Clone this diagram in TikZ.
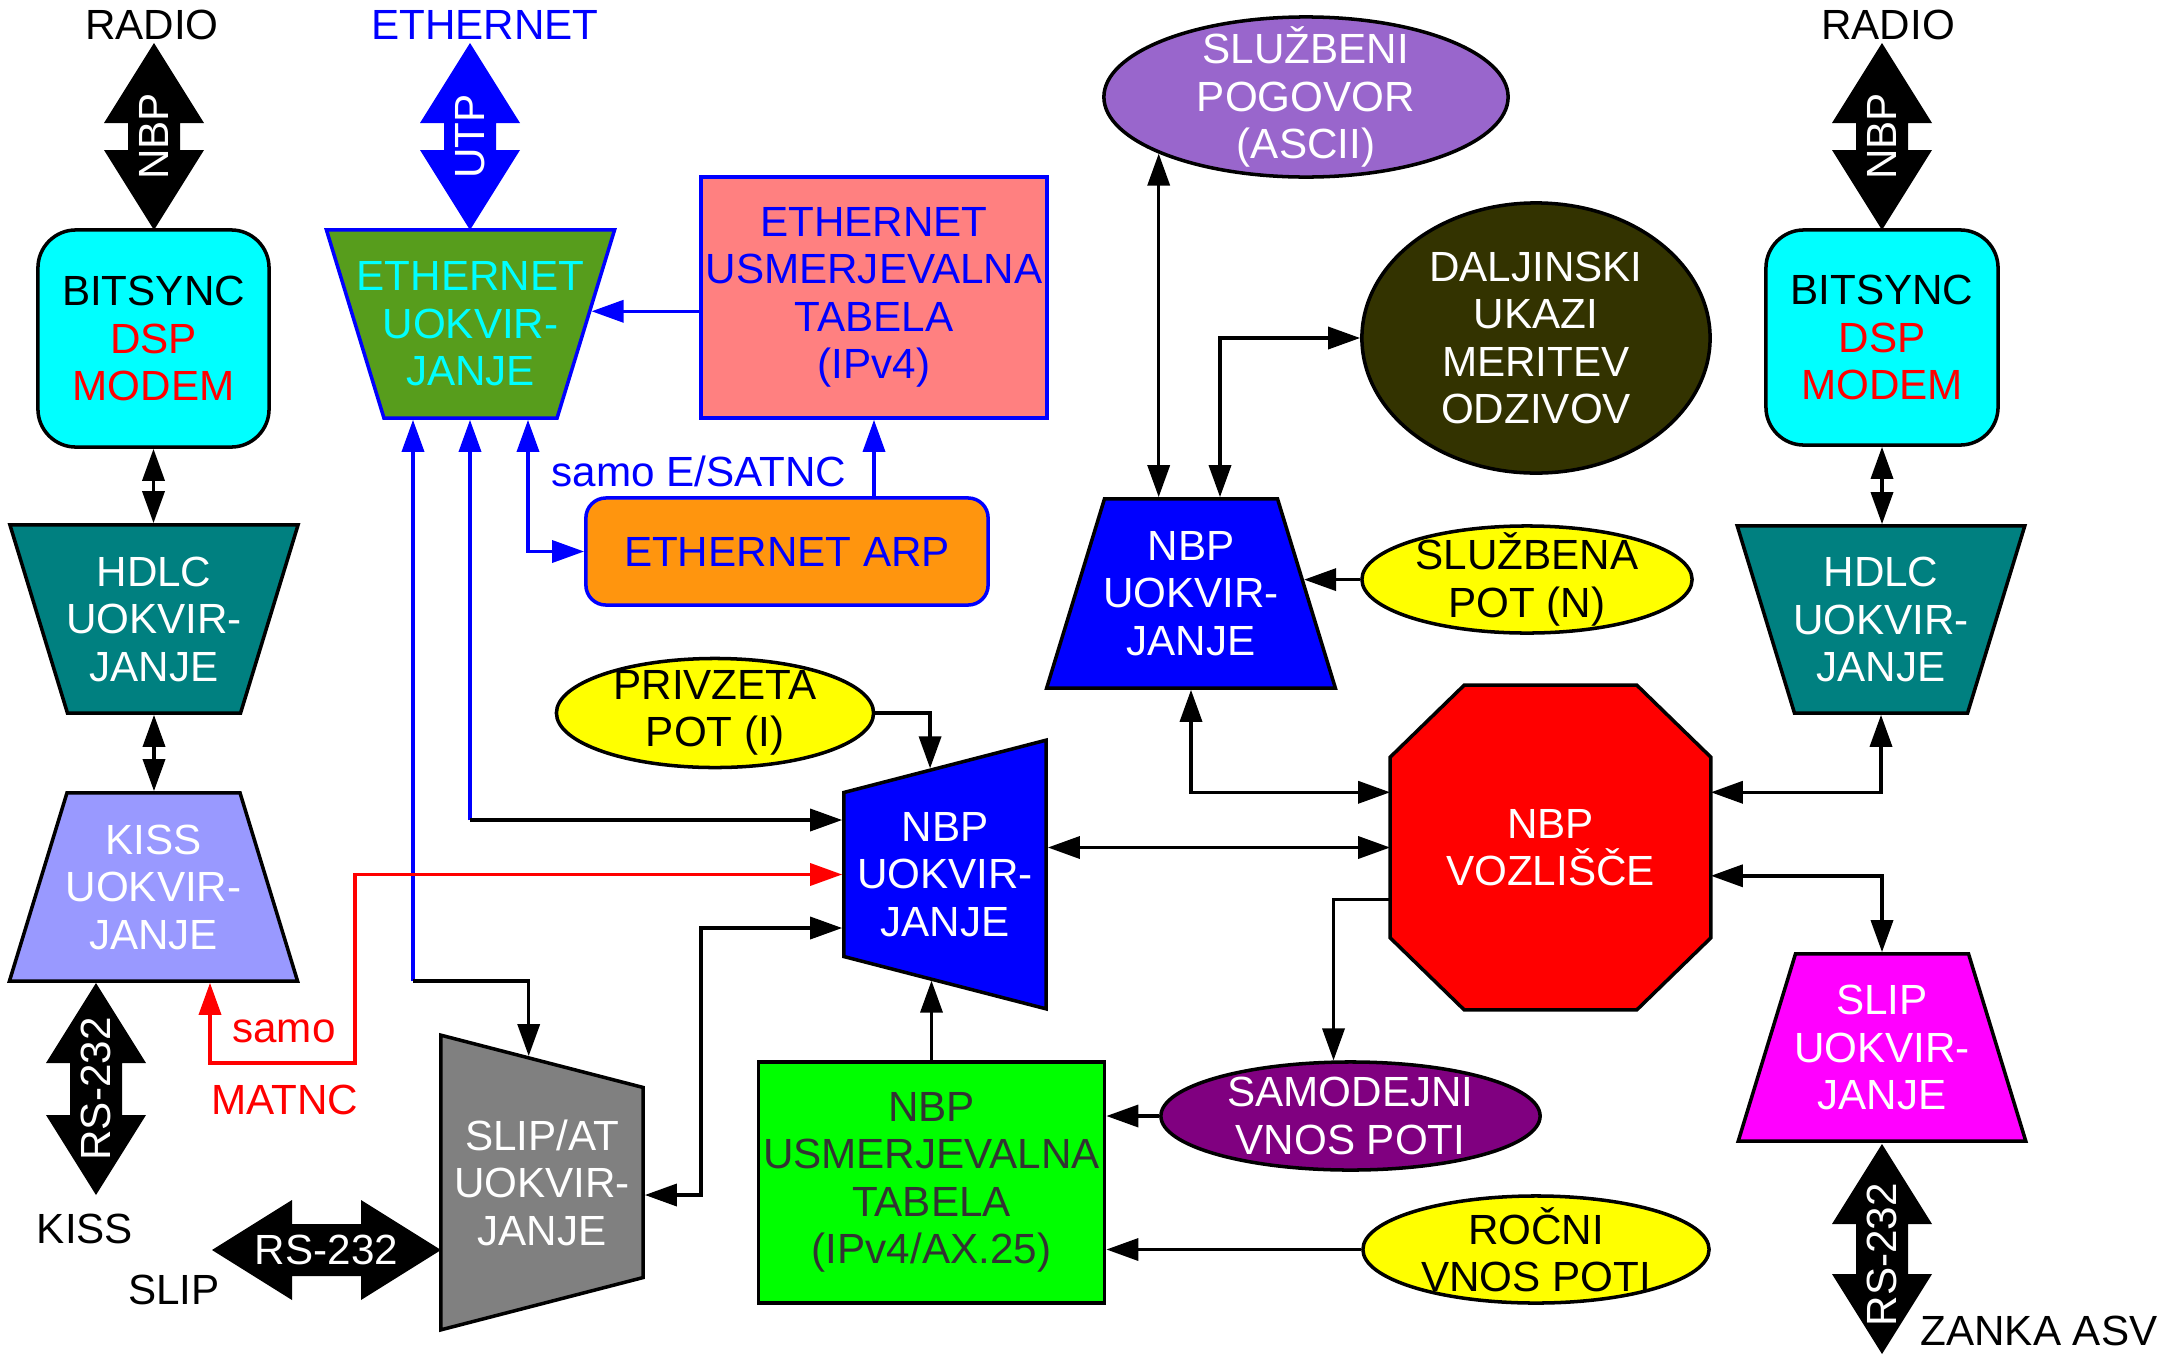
\documentclass[tikz,border=0pt]{standalone}
\usepackage{fontspec}
\setmainfont{Liberation Sans}
\usetikzlibrary{shapes.geometric,arrows.meta,calc}

\definecolor{boxcyan}{RGB}{0,255,255}
\definecolor{noteyellow}{RGB}{255,255,0}
\definecolor{slipmagenta}{RGB}{255,0,255}
\definecolor{ethgreen}{RGB}{87,157,28}
\definecolor{tabpink}{RGB}{255,128,128}
\definecolor{arporange}{RGB}{255,149,14}
\definecolor{kissblue}{RGB}{153,153,255}
\definecolor{talkviolet}{RGB}{153,102,204}
\definecolor{darkolive}{RGB}{51,51,0}
\definecolor{autopurple}{RGB}{128,0,128}
\definecolor{tabgreen}{RGB}{0,255,0}
\definecolor{tabtext}{RGB}{51,51,51}

% empty body of a shape: width, height
\newcommand{\bodybox}[2]{\rule{0pt}{#2}\hspace*{#1}}

\tikzset{
    shp/.style={draw, line width=1pt, inner sep=0pt},
    trap/.style={shp, trapezium, trapezium angle=73},
    strap/.style={shp, trapezium, trapezium angle=75.5},
    oval/.style={shp, ellipse},
    txt/.style={align=center, font=\fontsize{12}{13.5}\selectfont},
    wtxt/.style={txt, text=white}
}

\begin{document}
\begin{tikzpicture}[x=0.01cm, y=-0.01cm, line width=1pt, >={Triangle[length=3.2mm,width=2.2mm]}]
    \useasboundingbox (0,0) rectangle (2163,1360);

    % Interfaces
    \foreach \nm/\px/\py/\len/\rot/\col/\txt in {
            nbpLa/154/136.5/93.5/90/black/NBP,
            utpa/470/136.5/93.5/90/blue/UTP,
            nbpRa/1882/136.5/93.5/90/black/NBP,
            kissa/96/1089/106/90/black/RS-232,
            slipa/326.5/1250/114.5/0/black/RS-232,
            asva/1882/1249/105/90/black/RS-232
            } {
        \fill[\col, shift={(\px,\py)}, rotate=\rot] (-\len,0) -- (80-\len,-50) -- (80-\len,-26) -- (\len-80,-26) -- (\len-80,-50) -- (\len,0) -- (\len-80,50) -- (\len-80,26) -- (80-\len,26) -- (80-\len,50) -- cycle;
        \node[wtxt, rotate=\rot] (\nm) at (\px,\py) {\txt};
    }

    % Labels
    \node[txt] (radioL) at (152,25) {RADIO};
    \node[txt, text=blue] (ethl) at (485,25) {ETHERNET};
    \node[txt] (radioR) at (1888,25) {RADIO};
    \node[txt] (kissl) at (85,1229) {KISS};
    \node[txt] (slipl) at (174,1290) {SLIP};
    \node[txt] (asvl) at (2039,1331) {ZANKA ASV};
    \node[txt, text=red] (samoK) at (284,1031) {samo};
    \node[txt, text=red] (matnc) at (285,1100) {MATNC};
    \node[txt, text=blue] (samoE) at (699,471) {samo E/SATNC};

    % Radio port, left
    \node[shp, fill=boxcyan, rounded corners=0.38cm, minimum width=2.31cm, minimum height=2.17cm] (bitsL) at (153.5,338.5) {};
    \node[txt] (bitsLt) at (bitsL) {BITSYNC\\\textcolor{red}{DSP}\\\textcolor{red}{MODEM}};
    \node[trap, fill=teal, shape border rotate=180] (hdlcL) at (154,619) {\bodybox{1.73cm}{1.88cm}};
    \node[wtxt] (hdlcLt) at (hdlcL) {HDLC\\UOKVIR-\\JANJE};
    \node[trap, fill=kissblue] (kissL) at (153.5,887) {\bodybox{1.73cm}{1.88cm}};
    \node[wtxt] (kissLt) at (kissL) {KISS\\UOKVIR-\\JANJE};

    % Ethernet
    \node[trap, draw=blue, fill=ethgreen, shape border rotate=180] (ethF) at (470.5,324) {\bodybox{1.73cm}{1.88cm}};
    \node[txt, text=boxcyan] (ethFt) at (ethF) {ETHERNET\\UOKVIR-\\JANJE};
    \node[shp, draw=blue, fill=tabpink, minimum width=3.46cm, minimum height=2.41cm] (ethTab) at (874,297.5) {};
    \node[txt, text=blue] (ethTabt) at (ethTab) {ETHERNET\\USMERJEVALNA\\TABELA\\(IPv4)};
    \node[shp, draw=blue, fill=arporange, rounded corners=0.2cm, minimum width=4.02cm, minimum height=1.07cm] (ethArp) at (787,551.5) {};
    \node[txt, text=blue] (ethArpt) at (ethArp) {ETHERNET ARP};

    % Middle
    \node[oval, fill=noteyellow, minimum width=3.17cm, minimum height=1.09cm] (ppt) at (715,713) {};
    \node[txt] (pptt) at (ppt) {PRIVZETA\\POT (I)};
    \node[strap, fill=blue, shape border rotate=90] (nbpM) at (945,874.5) {\bodybox{2.02cm}{1.64cm}};
    \node[wtxt] (nbpMt) at (nbpM) {NBP\\UOKVIR-\\JANJE};
    \node[strap, fill=gray, shape border rotate=270] (slipAT) at (542,1182.5) {\bodybox{2.02cm}{1.9cm}};
    \node[wtxt] (slipATt) at (slipAT) {SLIP/AT\\UOKVIR-\\JANJE};
    \node[shp, fill=tabgreen, minimum width=3.46cm, minimum height=2.41cm] (nbpTab) at (931.5,1182.5) {};
    \node[txt, text=tabtext] (nbpTabt) at (nbpTab) {NBP\\USMERJEVALNA\\TABELA\\(IPv4/AX.25)};

    % Node
    \node[oval, fill=talkviolet, minimum width=4.04cm, minimum height=1.6cm] (spo) at (1306,97) {};
    \node[wtxt] (spot) at (spo) {SLUŽBENI\\POGOVOR\\(ASCII)};
    \node[oval, fill=darkolive, minimum width=3.48cm, minimum height=2.7cm] (dal) at (1536,338) {};
    \node[wtxt] (dalt) at (dal) {DALJINSKI\\UKAZI\\MERITEV\\ODZIVOV};
    \node[trap, fill=blue] (nbpU) at (1191,593.5) {\bodybox{1.73cm}{1.89cm}};
    \node[wtxt] (nbpUt) at (nbpU) {NBP\\UOKVIR-\\JANJE};
    \node[oval, fill=noteyellow, minimum width=3.3cm, minimum height=1.07cm] (spn) at (1527,579.5) {};
    \node[txt] (spnt) at (spn) {SLUŽBENA\\POT (N)};
    \node[inner sep=0pt, minimum width=3.17cm, minimum height=3.21cm] (voz) at (1550.5,847.5) {};
    \filldraw[fill=red] ([xshift=0.74cm]voz.north west) -- ([xshift=-0.74cm]voz.north east)
        -- ([yshift=-0.72cm]voz.north east) -- ([yshift=0.72cm]voz.south east)
        -- ([xshift=-0.74cm]voz.south east) -- ([xshift=0.74cm]voz.south west)
        -- ([yshift=0.72cm]voz.south west) -- ([yshift=-0.72cm]voz.north west) -- cycle;
    \node[wtxt] (vozt) at (voz) {NBP\\VOZLIŠČE};
    \node[oval, fill=autopurple, minimum width=3.79cm, minimum height=1.08cm] (sam) at (1350.5,1116) {};
    \node[wtxt] (samt) at (sam) {SAMODEJNI\\VNOS POTI};
    \node[oval, fill=noteyellow, minimum width=3.46cm, minimum height=1.07cm] (roc) at (1536,1249.5) {};
    \node[txt] (roct) at (roc) {ROČNI\\VNOS POTI};

    % Radio port, right
    \node[shp, fill=boxcyan, rounded corners=0.38cm, minimum width=2.32cm, minimum height=2.15cm] (bitsR) at (1882,337.5) {};
    \node[txt] (bitsRt) at (bitsR) {BITSYNC\\\textcolor{red}{DSP}\\\textcolor{red}{MODEM}};
    \node[trap, fill=teal, shape border rotate=180] (hdlcR) at (1881,619.5) {\bodybox{1.73cm}{1.87cm}};
    \node[wtxt] (hdlcRt) at (hdlcR) {HDLC\\UOKVIR-\\JANJE};
    \node[trap, fill=slipmagenta] (slipR) at (1882,1047.5) {\bodybox{1.73cm}{1.87cm}};
    \node[wtxt] (slipRt) at (slipR) {SLIP\\UOKVIR-\\JANJE};

    % Bends
    \coordinate (eth1) at (413,981);
    \coordinate (eth2) at (470,820);
    \coordinate (eth3) at (528,552);
    \coordinate (mat0) at (210,1063);
    \coordinate (mat1) at (355,1063);
    \coordinate (sl1) at (701,928);
    \coordinate (sl2) at (701,1195);
    \coordinate (dal1) at (1220,338);

    % Connections
    \draw[<->] (bitsL.south) -- (bitsL.south |- hdlcL.90);
    \draw[<->] (hdlcL.270) -- (hdlcL.270 |- kissL.90);
    \draw[<->] (bitsR.south) -- (bitsR.south |- hdlcR.90);

    \draw[blue, ->] (eth1) -- (eth1 |- ethF.270);
    \draw[->] (eth1) -| (slipAT.96);
    \draw[blue, ->] (eth2) -- (eth2 |- ethF.270);
    \draw[->] (eth2) -- (eth2 -| nbpM.180);
    \draw[blue, <->] (eth3 |- ethF.270) |- (ethArp.west);
    \draw[blue, ->] (ethTab.west |- ethF.6) -- (ethF.6);
    \draw[blue, ->] (ethArp.north -| ethTab.south) -- (ethTab.south);

    \draw[red, <->] (mat0 |- kissL.270) -- (mat0) -- (mat1) |- (nbpM.180);

    \draw[->] (ppt.east) -| (nbpM.98);
    \draw[->] (nbpTab.north) -- (nbpTab.north |- nbpM.262);
    \draw[<->] (sl1 -| nbpM.180) -- (sl1) -- (sl2) -- (sl2 -| slipAT.0);
    \draw[<->] (voz.180 -| nbpM.0) -- (voz.180);
    \draw[<->] (nbpU.270) |- (voz.161);
    \draw[->] (spn.west |- nbpU.7) -- (nbpU.7);
    \draw[<->] (spo.201) -- (spo.201 |- nbpU.90);
    \draw[<->] (dal1 |- nbpU.90) |- (dal.west);
    \draw[->] (voz.198) -| (sam.107);
    \draw[->] (sam.west) -- (sam.west -| nbpTab.east);
    \draw[->] (roc.west) -- (roc.west -| nbpTab.east);
    \draw[<->] (hdlcR.270) |- (voz.19);
    \draw[<->] (voz.350) -| (slipR.90);
\end{tikzpicture}
\end{document}
